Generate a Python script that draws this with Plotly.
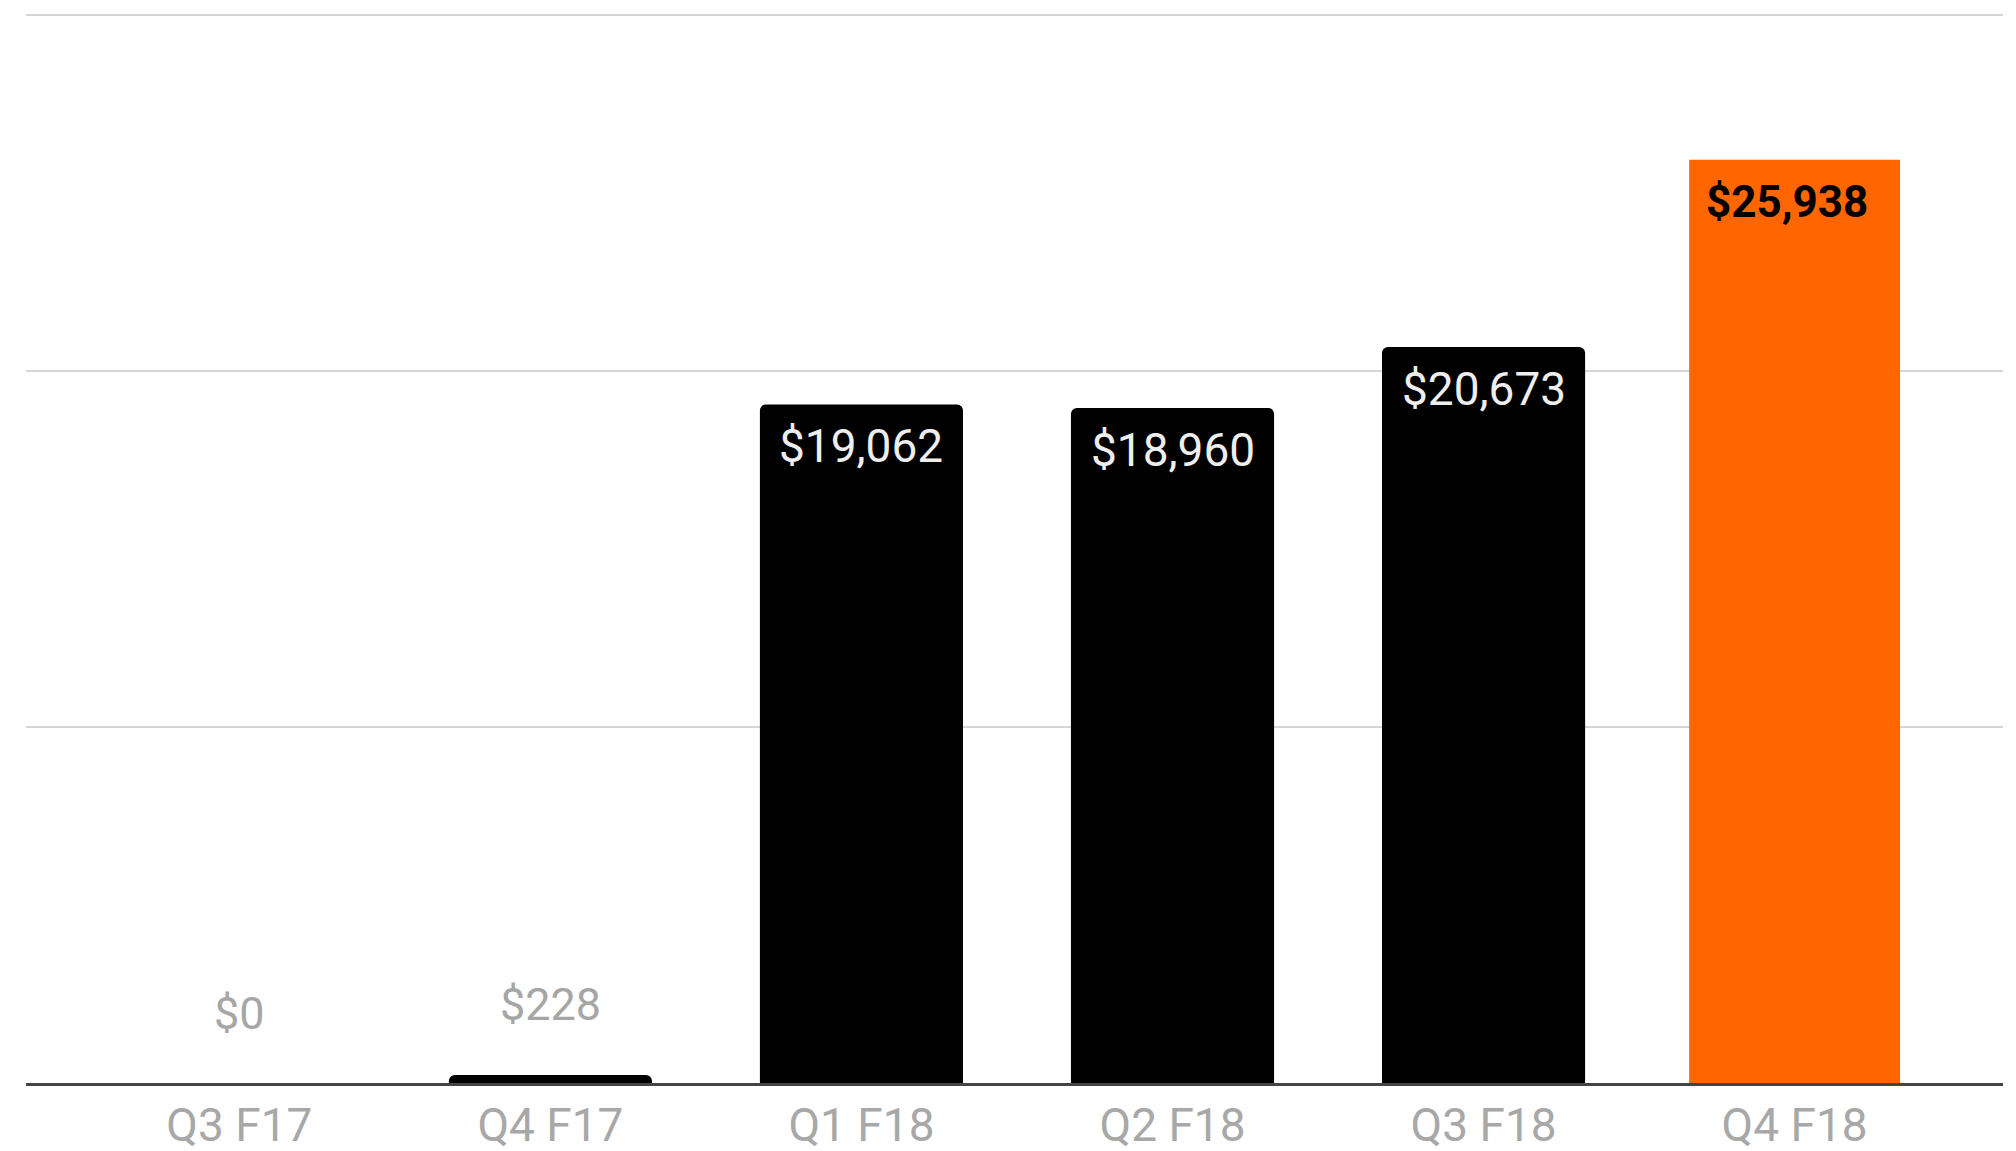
import plotly.graph_objects as go

categories = ["Q3 F17", "Q4 F17", "Q1 F18", "Q2 F18", "Q3 F18", "Q4 F18"]
values = [0, 228, 19062, 18960, 20673, 25938]
labels = ["$0", "$228", "$19,062", "$18,960", "$20,673", "$25,938"]
highlight = "Q4 F18"

black_x = [c for c in categories if c != highlight]
black_y = [v for c, v in zip(categories, values) if c != highlight]
hi_y = [v for c, v in zip(categories, values) if c == highlight]

fig = go.Figure()
fig.add_trace(go.Bar(x=black_x, y=black_y, marker=dict(color="#000000", cornerradius=6, line=dict(width=0)),
                     width=0.653, hoverinfo="skip"))
fig.add_trace(go.Bar(x=[highlight], y=hi_y, marker=dict(color="#FF6600", line=dict(width=0)),
                     width=0.678, hoverinfo="skip"))

for c, v, t in zip(categories, values, labels):
    if v > 5000:
        color = "#000000" if c == highlight else "#eeeeee"
        fig.add_annotation(x=c, y=v, text=t, showarrow=False, yanchor="middle", yshift=-42,
                           xshift=-8 if c == highlight else 0,
                           font=dict(family="Roboto", size=44 if c == highlight else 46, color=color,
                                     weight="bold" if c == highlight else "normal"))
    else:
        fig.add_annotation(x=c, y=v, text=t, showarrow=False, yanchor="middle", yshift=70,
                           font=dict(family="Roboto", size=45, color="#a6a6a6"))

fig.update_layout(
    width=2016, height=1151,
    margin=dict(l=26, r=13, t=14, b=68),
    paper_bgcolor="white", plot_bgcolor="white",
    barmode="overlay", showlegend=False,
    font=dict(family="Roboto"),
)
fig.update_xaxes(type="category", categoryorder="array", categoryarray=categories,
                 range=[-0.686, 5.67], showline=True, linecolor="#444444", linewidth=3,
                 showgrid=False, ticks="", automargin=False,
                 tickfont=dict(family="Roboto", size=46, color="#a8a8a8"))
fig.update_yaxes(range=[0, 30030], dtick=10000, showticklabels=False, showgrid=True,
                 gridcolor="#d6d6d6", gridwidth=2, zeroline=False, automargin=False)

fig.write_html("out.html")
